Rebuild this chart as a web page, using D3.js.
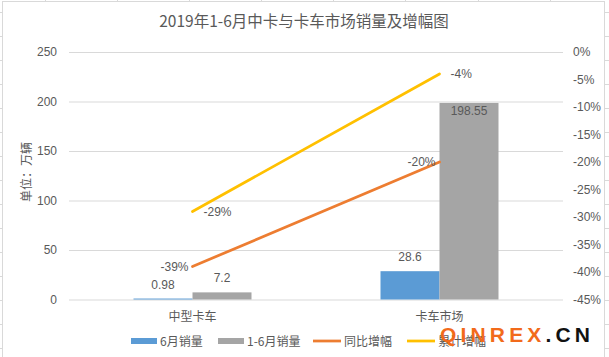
<!DOCTYPE html>
<html><head><meta charset="utf-8">
<script src="https://cdn.jsdelivr.net/npm/d3@7"></script>
<style>
html,body{margin:0;padding:0;background:#fff;}
svg{display:block;}
text{font-family:"Liberation Sans","Noto Sans CJK SC",sans-serif;fill:#595959;}
.cjk{font-family:"Noto Sans CJK SC","Liberation Sans",sans-serif;}
</style></head>
<body>
<script>
const title = "2019年1-6月中卡与卡车市场销量及增幅图";
const categories = ["中型卡车", "卡车市场"];
const juneSales = [0.98, 28.6];
const h1Sales = [7.2, 198.55];
const yoyGrowth = [-39, -20];
const cumGrowth = [-29, -4];
const leftTicks = [0, 50, 100, 150, 200, 250];
const rightTicks = [0, -5, -10, -15, -20, -25, -30, -35, -40, -45];
const seriesNames = ["6月销量", "1-6月销量", "同比增幅", "累计增幅"];
const colors = ["#5B9BD5", "#A5A5A5", "#ED7D31", "#FFC000"];

const W = 609, H = 357;
const svg = d3.select("body").append("svg").attr("width", W).attr("height", H);

// sheet border and cell stubs
const gridC = "#D9D9D9";
svg.append("rect").attr("x", 2.5).attr("y", 1.5).attr("width", 602).attr("height", H).attr("fill", "none").attr("stroke", gridC);
d3.range(12, H, 24).forEach(y => {
  svg.append("line").attr("x1", 0).attr("x2", 2).attr("y1", y + 0.5).attr("y2", y + 0.5).attr("stroke", gridC);
  svg.append("line").attr("x1", 605).attr("x2", 609).attr("y1", y + 0.5).attr("y2", y + 0.5).attr("stroke", gridC);
});
[45, 117, 189, 261, 333, 405, 478, 550].forEach(x => {
  svg.append("line").attr("x1", x + 0.5).attr("x2", x + 0.5).attr("y1", 0).attr("y2", 1).attr("stroke", gridC);
});

const L = 69, R = 563, T = 52, B = 299.5;
const x = d3.scaleBand().domain(categories).range([L, R]).padding(0);
const xs = d3.scaleBand().domain([0, 1]).range([64.5, 182.5]).padding(0);
const y = d3.scaleLinear().domain([0, 250]).range([B, T]);
const y2 = d3.scaleLinear().domain([-45, 0]).range([B, T]);

// title
svg.append("text").attr("class", "cjk").attr("x", 304).attr("y", 27).attr("text-anchor", "middle")
  .attr("font-size", 15.5).text(title);

// gridlines
const gl = d3.axisLeft(y).tickValues(leftTicks).tickSize(-(R - L)).tickFormat("");
svg.append("g").attr("transform", `translate(${L},0)`).call(gl)
  .call(g => g.select(".domain").remove())
  .call(g => g.selectAll("line").attr("stroke", gridC));

// left axis labels
const la = d3.axisLeft(y).tickValues(leftTicks).tickSize(0).tickPadding(12);
svg.append("g").attr("transform", `translate(${L},0)`).call(la)
  .call(g => g.select(".domain").remove())
  .call(g => g.selectAll("text").attr("font-size", 12).attr("fill", "#595959")
    .attr("font-family", "Liberation Sans, sans-serif"));

// right axis labels
const ra = d3.axisRight(y2).tickValues(rightTicks).tickSize(0).tickPadding(10).tickFormat(d => d + "%");
svg.append("g").attr("transform", `translate(${R},0)`).call(ra)
  .call(g => g.select(".domain").remove())
  .call(g => g.selectAll("text").attr("font-size", 12).attr("fill", "#595959")
    .attr("font-family", "Liberation Sans, sans-serif"));

// y axis title
svg.append("text").attr("class", "cjk").attr("transform", "translate(31,172) rotate(-90)")
  .attr("text-anchor", "middle").attr("font-size", 12).text("单位：万辆");

// category labels
categories.forEach(c => {
  svg.append("text").attr("class", "cjk").attr("x", x(c) + x.bandwidth() / 2).attr("y", 321)
    .attr("text-anchor", "middle").attr("font-size", 12).text(c);
});

// bars
const barSeries = [juneSales, h1Sales];
barSeries.forEach((vals, si) => {
  svg.append("g").selectAll("rect").data(vals).join("rect")
    .attr("x", (d, i) => x(categories[i]) + xs(si))
    .attr("width", xs.bandwidth())
    .attr("y", d => y(d))
    .attr("height", d => B - y(d))
    .attr("fill", colors[si]);
});

// bar labels
const fs = 12;
juneSales.forEach((d, i) => {
  svg.append("text").attr("x", x(categories[i]) + xs(0) + xs.bandwidth() / 2).attr("y", y(d) - 10)
    .attr("text-anchor", "middle").attr("font-size", fs).attr("fill", "#404040").text(d);
});
h1Sales.forEach((d, i) => {
  const top = y(d);
  const yy = top < 110 ? top + 12 : top - 10;
  svg.append("text").attr("x", x(categories[i]) + xs(1) + xs.bandwidth() / 2).attr("y", yy)
    .attr("text-anchor", "middle").attr("font-size", fs).attr("fill", "#404040").text(d);
});

// lines
const cx = c => x(c) + x.bandwidth() / 2;
const lineGen = d3.line().x((d, i) => cx(categories[i])).y(d => y2(d));
[[yoyGrowth, 2], [cumGrowth, 3]].forEach(([vals, ci]) => {
  svg.append("path").datum(vals).attr("d", lineGen).attr("fill", "none")
    .attr("stroke", colors[ci]).attr("stroke-width", 2.75).attr("stroke-linecap", "round");
});
yoyGrowth.forEach((d, i) => {
  svg.append("text").attr("x", cx(categories[i]) - 4).attr("y", y2(d) + 4)
    .attr("text-anchor", "end").attr("font-size", fs).attr("fill", "#404040").text(d + "%");
});
cumGrowth.forEach((d, i) => {
  svg.append("text").attr("x", cx(categories[i]) + 11).attr("y", y2(d) + 4)
    .attr("text-anchor", "start").attr("font-size", fs).attr("fill", "#404040").text(d + "%");
});

// legend
const legX = [131, 218, 313, 407];
seriesNames.forEach((n, i) => {
  if (i < 2) {
    svg.append("rect").attr("x", legX[i]).attr("y", 338).attr("width", 26).attr("height", 6).attr("fill", colors[i]);
  } else {
    svg.append("line").attr("x1", legX[i]).attr("x2", legX[i] + 28).attr("y1", 341).attr("y2", 341)
      .attr("stroke", colors[i]).attr("stroke-width", 2.75);
  }
  svg.append("text").attr("class", "cjk").attr("x", legX[i] + (i < 2 ? 29 : 31)).attr("y", 345.5)
    .attr("font-size", 12).text(n);
});

// watermark
const wm = svg.append("text").attr("x", 440).attr("y", 342)
  .attr("font-size", 21).attr("font-weight", "bold")
  .attr("textLength", 150).attr("lengthAdjust", "spacing")
  .style("font-family", "Liberation Sans, Arial, sans-serif");
wm.append("tspan").attr("fill", "#F26A1B").style("fill", "#F26A1B").text("QINREX");
wm.append("tspan").attr("fill", "#111").style("fill", "#111").text(".CN");
</script>
</body></html>
